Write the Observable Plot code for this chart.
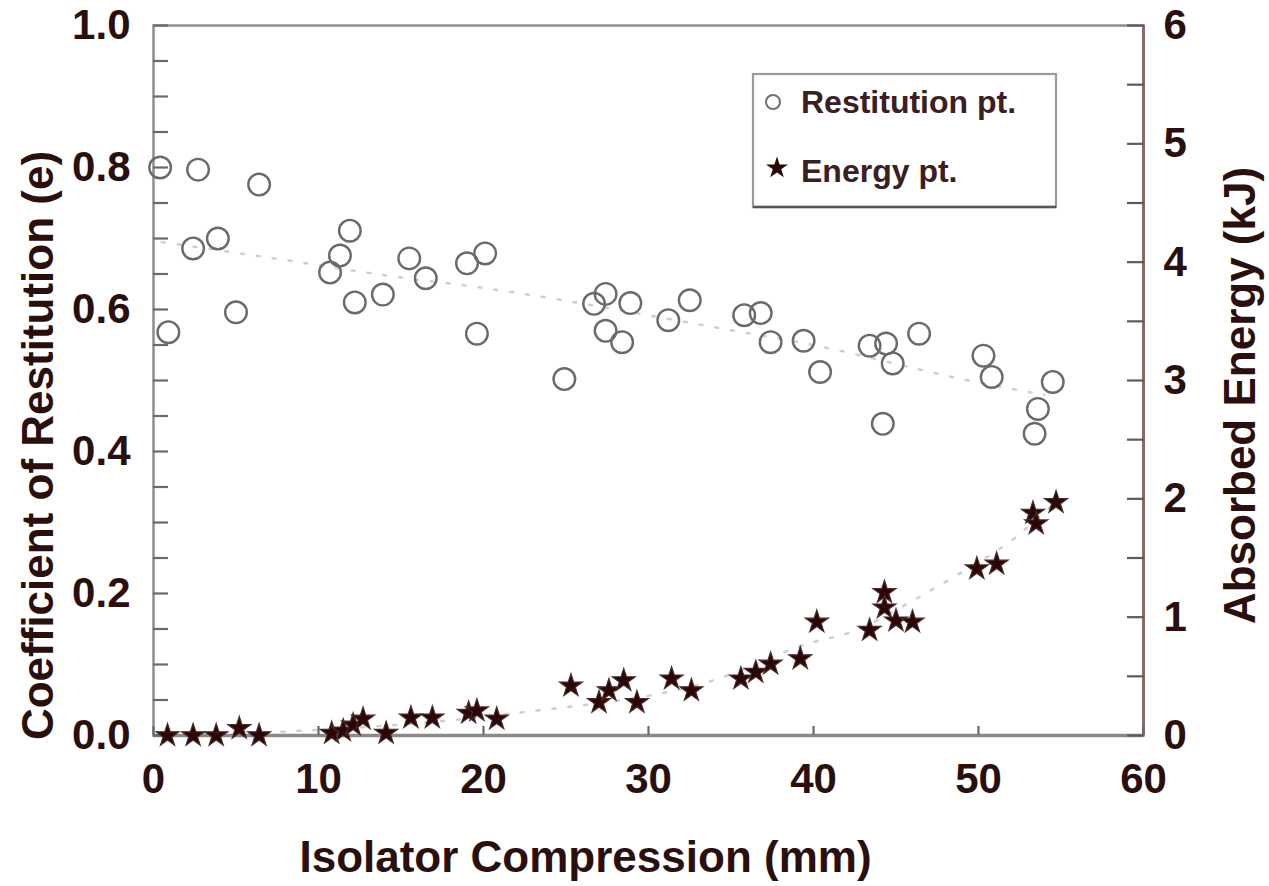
<!DOCTYPE html>
<html>
<head>
<meta charset="utf-8">
<script src="https://cdn.jsdelivr.net/npm/d3@7"></script>
<script src="https://cdn.jsdelivr.net/npm/@observablehq/plot@0.6"></script>
<style>
  html, body { margin: 0; padding: 0; background: #ffffff; }
  #wrap { position: relative; width: 1269px; height: 886px; overflow: hidden; }
  #legend { position: absolute; left: 0; top: 0; }
</style>
</head>
<body>
<div id="wrap"></div>
<script>
// ---- Data ----
const restX = [0.4, 0.9, 2.4, 2.7, 3.9, 5.0, 6.4, 10.7, 11.3, 11.9, 12.2, 13.9, 15.5, 16.5, 19.0, 19.6, 20.1,
               24.9, 26.7, 27.4, 27.4, 28.4, 28.9, 31.2, 32.5, 35.8, 36.8, 37.4, 39.4, 40.4,
               43.4, 44.2, 44.4, 44.8, 46.4, 50.3, 50.8, 53.4, 53.6, 54.5];
const restE = [0.800, 0.568, 0.686, 0.797, 0.700, 0.596, 0.776, 0.652, 0.676, 0.711, 0.610, 0.621, 0.672, 0.644, 0.665, 0.566, 0.679,
               0.502, 0.608, 0.622, 0.570, 0.554, 0.609, 0.585, 0.613, 0.592, 0.595, 0.554, 0.556, 0.512,
               0.549, 0.439, 0.552, 0.524, 0.566, 0.535, 0.505, 0.425, 0.460, 0.498];

const energyX = [0.85, 2.4, 3.8, 5.2, 6.4, 10.8, 11.5, 12.1, 12.7, 14.1, 15.6, 16.9, 19.1, 19.6, 20.8,
                 25.3, 27.0, 27.6, 28.5, 29.3, 31.4, 32.6, 35.6, 36.5, 37.4, 39.2, 40.2, 43.4, 44.3, 44.3,
                 45.0, 46.0, 49.9, 51.1, 53.3, 53.5, 54.7];
const energyKJ = [0, 0, 0, 0.06, 0, 0.02, 0.04, 0.09, 0.14, 0.02, 0.15, 0.15, 0.19, 0.21, 0.14,
                  0.42, 0.28, 0.38, 0.465, 0.28, 0.48, 0.38, 0.48, 0.535, 0.605, 0.65, 0.96, 0.89, 1.21, 1.08,
                  0.97, 0.96, 1.41, 1.45, 1.88, 1.79, 1.97];

// dotted trend curves
const restFitX = [0.5, 9, 15, 23, 34, 41, 48, 54];
const restFitE = [0.695, 0.666, 0.645, 0.620, 0.575, 0.545, 0.507, 0.480];
const energyFitX = [0, 9, 22, 34, 40, 42, 46.4, 48.5, 52.2, 54.5];
const energyFitKJ = [0, 0.04, 0.19, 0.47, 0.79, 0.86, 1.17, 1.34, 1.67, 1.95];

// ticks / labels
const xLabels = [0, 10, 20, 30, 40, 50, 60];
const leftLabels = [0, 0.2, 0.4, 0.6, 0.8, 1.0];
const leftMinorTicks = d3.range(0, 1.0001, 0.05);
const rightLabels = [0, 1, 2, 3, 4, 5, 6];
const rightMinorTicks = d3.range(0, 6.0001, 0.5);
const energyMax = 6;

const xTitle = "Isolator Compression (mm)";
const yTitle = "Coefficient of Restitution (e)";
const y2Title = "Absorbed Energy (kJ)";
const legendLabels = ["Restitution pt.", "Energy pt."];

// ---- Build tables ----
const restData = restX.map((x, i) => ({x, e: restE[i]}));
const energyData = energyX.map((x, i) => ({x, kj: energyKJ[i]}));
const restFit = restFitX.map((x, i) => ({x, e: restFitE[i]}));
const energyFit = energyFitX.map((x, i) => ({x, kj: energyFitKJ[i]}));

const ink = "#2a0f0f";
const font = "'Liberation Sans', Arial, Helvetica, sans-serif";
const toY = kj => kj / energyMax;

const chart = Plot.plot({
  width: 1269,
  height: 886,
  marginLeft: 153,
  marginRight: 126,
  marginTop: 25,
  marginBottom: 151,
  x: {domain: [0, 60], label: null},
  y: {domain: [0, 1], label: null},
  style: {fontFamily: font, fontWeight: "bold", color: ink, background: "white", overflow: "visible"},
  marks: [
    // dotted trend curves
    Plot.line(restFit, {x: "x", y: "e", curve: "natural", stroke: "#cfcfcf", strokeWidth: 2.5, strokeDasharray: "3,13"}),
    Plot.line(energyFit, {x: "x", y: d => toY(d.kj), curve: "monotone-x", stroke: "#cfcfcf", strokeWidth: 2.5, strokeDasharray: "3,13"}),
    // frame
    Plot.frame({stroke: "#8e8e8e", strokeWidth: 2.5}),
    Plot.ruleY([0], {stroke: "#8a8a8a", strokeWidth: 3.5}),
    Plot.ruleX([60], {stroke: "#8a6b6b", strokeWidth: 3}),
    // inward ticks
    Plot.axisY(leftMinorTicks, {anchor: "left", tickSize: -15, tickFormat: () => "", stroke: "#6a6a6a", strokeWidth: 2.2, label: null}),
    Plot.axisY(rightMinorTicks.map(toY), {anchor: "right", tickSize: -17, tickFormat: () => "", stroke: "#6a5555", strokeWidth: 2.2, label: null}),
    Plot.axisX(xLabels, {anchor: "bottom", tickSize: -9, tickFormat: () => "", stroke: "#6a6a6a", strokeWidth: 2.2, label: null}),
    // tick labels
    Plot.axisY(leftLabels, {anchor: "left", tickSize: 0, tickPadding: 23, tickFormat: d3.format(".1f"),
      fontSize: 42, fontWeight: "bold", fill: ink, label: null}),
    Plot.axisY(rightLabels.map(toY), {anchor: "right", tickSize: 0, tickPadding: 20,
      tickFormat: d => String(Math.round(d * energyMax)), fontSize: 42, fontWeight: "bold", fill: ink, label: null}),
    Plot.axisX(xLabels, {anchor: "bottom", tickSize: 0, tickPadding: 28, fontSize: 42, fontWeight: "bold", fill: ink, label: null}),
    // axis titles
    Plot.text([xTitle], {text: d => d, frameAnchor: "bottom", dx: -63, dy: 122, lineAnchor: "middle",
      fontSize: 44, fontWeight: "bold", fill: ink}),
    Plot.text([yTitle], {text: d => d, frameAnchor: "left", dx: -115, dy: 65, rotate: -90, lineAnchor: "middle", textAnchor: "middle",
      fontSize: 44, fontWeight: "bold", fill: ink}),
    Plot.text([y2Title], {text: d => d, frameAnchor: "right", dx: 97, dy: 15, rotate: -90, lineAnchor: "middle", textAnchor: "middle",
      fontSize: 44, fontWeight: "bold", fill: ink}),
    // data points
    Plot.dot(restData, {x: "x", y: "e", r: 10.8, fill: "none", stroke: "#6a6a6a", strokeWidth: 2.4}),
    Plot.dot(energyData, {x: "x", y: d => toY(d.kj), symbol: "star", r: 7.2, fill: "#2b0606", stroke: "#4a2a2a", strokeWidth: 1.2})
  ]
});

const wrap = document.getElementById("wrap");
wrap.appendChild(chart);

// ---- Legend box (inside plot area, top right) ----
const lg = d3.select(wrap).append("svg")
  .attr("id", "legend")
  .attr("width", 1269).attr("height", 886)
  .style("pointer-events", "none");
lg.append("rect").attr("x", 753).attr("y", 74).attr("width", 303).attr("height", 133)
  .attr("fill", "white").attr("stroke", "#9a9a9a").attr("stroke-width", 2.2);
lg.append("line").attr("x1", 753).attr("x2", 1056).attr("y1", 207).attr("y2", 207)
  .attr("stroke", "#555").attr("stroke-width", 2.5);
lg.append("circle").attr("cx", 773).attr("cy", 102).attr("r", 7).attr("fill", "none")
  .attr("stroke", "#707070").attr("stroke-width", 2);
lg.append("path").attr("d", d3.symbol(d3.symbolStar, 150)()).attr("transform", "translate(777,168)")
  .attr("fill", "#2b0606");
lg.selectAll("text.lab").data(legendLabels).join("text")
  .attr("class", "lab")
  .attr("x", 801).attr("y", (d, i) => i === 0 ? 113 : 182)
  .attr("font-family", font).attr("font-weight", "bold").attr("font-size", 32)
  .attr("fill", "#3a2020")
  .text(d => d);
</script>
</body>
</html>
